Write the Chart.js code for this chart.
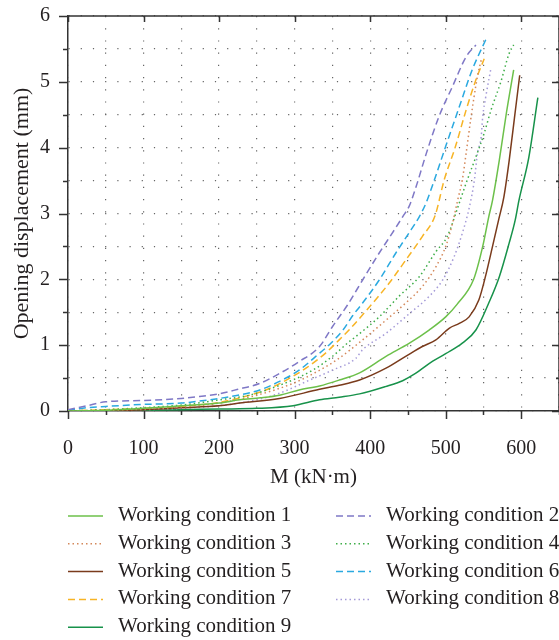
<!DOCTYPE html>
<html>
<head>
<meta charset="utf-8">
<script src="https://cdn.jsdelivr.net/npm/chart.js@4.4.1/dist/chart.umd.min.js"></script>
<style>
  html, body { margin: 0; padding: 0; background: #fff; }
</style>
</head>
<body>
<canvas id="chart" width="559" height="640"></canvas>
<script>
// M (kN·m) and opening displacement (mm) for each working condition
const m1 = [0, 50, 100, 150, 200, 227, 255, 280, 306, 333, 359, 386, 421, 452, 478, 500, 515, 537, 549, 557, 562, 571, 580, 590];
const d1 = [0, 0.01, 0.04, 0.08, 0.12, 0.17, 0.2, 0.24, 0.32, 0.38, 0.47, 0.58, 0.83, 1.03, 1.23, 1.43, 1.62, 2.0, 2.5, 2.95, 3.2, 3.81, 4.5, 5.18];
const m2 = [0, 25, 50, 100, 150, 174, 200, 225, 254, 280, 306, 333, 350, 370, 390, 412, 432, 443, 452, 462, 474, 491, 509, 527, 540];
const d2 = [0.02, 0.08, 0.14, 0.16, 0.19, 0.22, 0.26, 0.33, 0.42, 0.57, 0.75, 0.98, 1.28, 1.61, 1.99, 2.4, 2.75, 2.95, 3.12, 3.45, 3.9, 4.47, 4.93, 5.38, 5.56];
const m3 = [0, 50, 100, 150, 200, 250, 300, 330, 355, 390, 421, 447, 469, 487, 500, 509, 516, 522, 527, 533, 542, 547];
const d3 = [0, 0.01, 0.03, 0.06, 0.12, 0.24, 0.43, 0.6, 0.77, 1.08, 1.38, 1.64, 1.89, 2.19, 2.5, 2.85, 3.21, 3.51, 3.91, 4.42, 5.08, 5.33];
const m4 = [0, 50, 100, 150, 201, 240, 280, 324, 350, 372, 381, 412, 438, 465, 487, 502, 518, 527, 540, 551, 560, 573, 584, 590];
const d4 = [0, 0.02, 0.05, 0.09, 0.17, 0.24, 0.39, 0.62, 0.83, 1.05, 1.13, 1.43, 1.74, 2.04, 2.42, 2.65, 3.16, 3.46, 3.86, 4.22, 4.57, 5.0, 5.43, 5.56];
const m5 = [0, 50, 100, 150, 200, 227, 280, 333, 359, 386, 421, 447, 469, 487, 505, 518, 531, 544, 553, 562, 570, 577, 584, 591, 598];
const d5 = [0, 0, 0.02, 0.05, 0.08, 0.12, 0.19, 0.33, 0.39, 0.47, 0.65, 0.83, 0.98, 1.08, 1.26, 1.33, 1.43, 1.69, 2.06, 2.5, 2.9, 3.25, 3.8, 4.45, 5.1];
const m6 = [0, 25, 50, 100, 150, 174, 200, 225, 254, 280, 306, 328, 348, 364, 377, 390, 412, 434, 454, 465, 474, 485, 500, 518, 535, 553];
const d6 = [0.01, 0.05, 0.07, 0.1, 0.12, 0.15, 0.19, 0.24, 0.32, 0.45, 0.62, 0.83, 1.03, 1.23, 1.45, 1.64, 1.99, 2.4, 2.75, 2.95, 3.16, 3.51, 4.02, 4.62, 5.18, 5.64];
const m7 = [0, 50, 100, 150, 200, 227, 262, 289, 315, 341, 359, 372, 399, 425, 447, 469, 486, 498, 513, 527, 540, 551];
const d7 = [0, 0.02, 0.04, 0.07, 0.13, 0.2, 0.32, 0.47, 0.65, 0.88, 1.08, 1.23, 1.58, 1.94, 2.29, 2.65, 2.97, 3.51, 4.02, 4.57, 5.03, 5.35];
const m8 = [0, 50, 100, 150, 200, 250, 280, 320, 350, 381, 390, 421, 452, 478, 496, 511, 522, 531, 538, 542, 547, 549, 553, 560];
const d8 = [0, 0.01, 0.02, 0.04, 0.08, 0.17, 0.27, 0.47, 0.62, 0.8, 0.93, 1.18, 1.48, 1.74, 1.99, 2.34, 2.7, 3.08, 3.51, 3.91, 4.17, 4.47, 4.77, 5.21];
const m9 = [0, 50, 100, 150, 200, 250, 298, 333, 359, 386, 420, 443, 460, 478, 500, 522, 540, 557, 571, 584, 592, 597, 610, 622];
const d9 = [0, 0, 0.01, 0.02, 0.03, 0.04, 0.08, 0.17, 0.21, 0.26, 0.37, 0.46, 0.57, 0.72, 0.87, 1.03, 1.23, 1.64, 2.04, 2.55, 2.9, 3.2, 3.85, 4.76];

const labels = [1, 2, 3, 4, 5, 6, 7, 8, 9].map((n) => `Working condition ${n}`);
const mValues = [m1, m2, m3, m4, m5, m6, m7, m8, m9];
const dValues = [d1, d2, d3, d4, d5, d6, d7, d8, d9];
const colors = ['#6cc04a', '#7f78c6', '#d4885a', '#3fae49', '#7a3b1c', '#2aa9e0', '#f7b425', '#a49ad8', '#17924a'];

const SOLID = [];
const DASH = [7, 4];
const DOT = [1.5, 3];
const dashes = [SOLID, DASH, DOT, DOT, SOLID, DASH, DASH, DOT, SOLID];

const FONT = '"Liberation Serif", "Times New Roman", serif';
const INK = '#231f20';
const AXIS = '#333';

Chart.defaults.font.family = FONT;
Chart.defaults.font.size = 20;
Chart.defaults.color = INK;

const toPoints = (m, d) => m.map((x, i) => ({ x, y: d[i] }));

// box around the plot: top/right lines, inward ticks there, outward ticks below/left
const framePlugin = {
  id: 'frame',
  afterDraw(chart) {
    const { ctx, chartArea: { left, right, top, bottom }, scales: { x, y } } = chart;
    ctx.save();
    ctx.strokeStyle = AXIS;
    ctx.lineWidth = 1.5;
    ctx.beginPath();
    ctx.moveTo(left, top);
    ctx.lineTo(right, top);
    ctx.lineTo(right, bottom);
    x.ticks.forEach(({ value }) => {
      const px = Math.round(x.getPixelForValue(value)) + 0.5;
      const major = value % 100 === 0;
      ctx.moveTo(px, bottom);
      ctx.lineTo(px, bottom + (major ? 8 : 4));
      if (major) {
        ctx.moveTo(px, top);
        ctx.lineTo(px, top + 6);
      }
    });
    y.ticks.forEach(({ value }) => {
      const py = Math.round(y.getPixelForValue(value)) + 0.5;
      const major = Number.isInteger(value);
      ctx.moveTo(left - (major ? 9 : 5), py);
      ctx.lineTo(left, py);
      ctx.moveTo(right, py);
      ctx.lineTo(right - (major ? 7 : 3), py);
    });
    ctx.stroke();
    ctx.restore();
  },
};

// two-column legend under the x axis title
const legendPlugin = {
  id: 'gridLegend',
  afterDraw(chart) {
    const { ctx, chartArea } = chart;
    ctx.save();
    ctx.font = `21px ${FONT}`;
    ctx.textBaseline = 'alphabetic';
    ctx.fillStyle = INK;
    chart.data.datasets.forEach((ds, i) => {
      const x0 = chartArea.left + (i % 2) * 268;
      const yy = chartArea.bottom + 105 + Math.floor(i / 2) * 27.8;
      ctx.strokeStyle = ds.borderColor;
      ctx.lineWidth = ds.borderWidth;
      ctx.setLineDash(ds.borderDash);
      ctx.beginPath();
      ctx.moveTo(x0, yy);
      ctx.lineTo(x0 + 35, yy);
      ctx.stroke();
      ctx.setLineDash([]);
      ctx.fillText(ds.label, x0 + 50, yy + 5);
    });
    ctx.restore();
  },
};

const dottedGrid = {
  color: '#666',
  lineWidth: 1.2,
  drawTicks: false,
};

new Chart(document.getElementById('chart'), {
  type: 'line',
  data: {
    datasets: labels.map((label, i) => ({
      label,
      data: toPoints(mValues[i], dValues[i]),
      borderColor: colors[i],
      backgroundColor: colors[i],
      borderWidth: 1.5,
      borderDash: dashes[i],
      pointRadius: 0,
      pointHoverRadius: 0,
      cubicInterpolationMode: 'monotone',
      fill: false,
    })),
  },
  options: {
    responsive: false,
    animation: false,
    devicePixelRatio: 1,
    layout: {
      autoPadding: false,
      padding: { top: 16, right: 0, bottom: 120, left: 0 },
    },
    plugins: {
      legend: { display: false },
      tooltip: { enabled: false },
    },
    scales: {
      x: {
        type: 'linear',
        min: 0,
        max: 650,
        afterFit: (scale) => {
          scale.height = 109;
          scale.paddingLeft = 0;
          scale.paddingRight = 0;
        },
        ticks: {
          stepSize: 50,
          padding: 26,
          autoSkip: false,
          maxRotation: 0,
          callback: (v) => (v % 100 === 0 && v <= 600 ? v : ''),
        },
        grid: dottedGrid,
        border: { color: AXIS, width: 1.5, dash: [1.2, 11] },
        title: {
          display: true,
          text: 'M (kN·m)',
          font: { size: 21 },
          padding: { top: 0, bottom: 30 },
        },
      },
      y: {
        min: 0,
        max: 6,
        afterFit: (scale) => {
          scale.width = 68;
          scale.paddingTop = 0;
          scale.paddingBottom = 0;
        },
        ticks: {
          stepSize: 0.5,
          padding: 18,
          autoSkip: false,
          callback: (v) => (Number.isInteger(v) ? v : ''),
        },
        grid: dottedGrid,
        border: { color: AXIS, width: 1.5, dash: [1.2, 11] },
        title: {
          display: true,
          text: 'Opening displacement (mm)',
          font: { size: 22 },
          padding: { top: 9, bottom: 0 },
        },
      },
    },
  },
  plugins: [framePlugin, legendPlugin],
});
</script>
</body>
</html>
